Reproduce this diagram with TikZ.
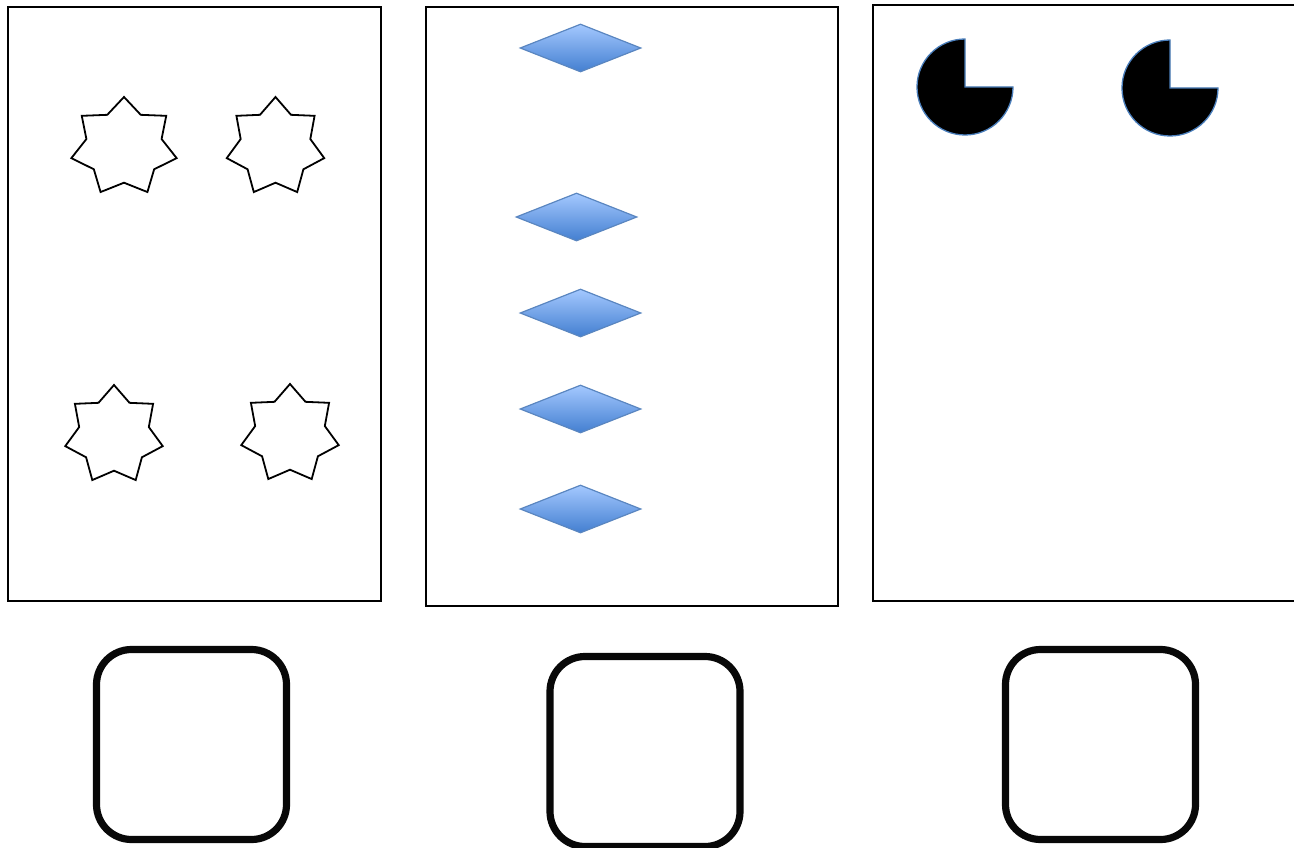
\documentclass[tikz,border=0pt]{standalone}
\usetikzlibrary{shapes.geometric}
\definecolor{dtop}{HTML}{A4C8FF}
\definecolor{dbot}{HTML}{437FD0}
\definecolor{dedge}{HTML}{5A86C0}
\definecolor{pedge}{HTML}{4A7EBB}
\tikzset{
  panel/.style={draw=black, line width=1.3pt, rectangle, inner sep=0pt},
  starshape/.style={star, star points=7, star point ratio=1.4, draw=black, line width=1.8pt, inner sep=0pt, minimum size=100pt},
  dia/.style={diamond, aspect=2.52, minimum width=121pt, minimum height=48pt, inner sep=0pt, draw=dedge, line width=1.2pt, top color=dtop, bottom color=dbot},
  pie/.style={fill=black, draw=pedge, line width=1.3pt},
  rbox/.style={draw=black!97, line width=7.2pt, rounded corners=35pt, minimum size=190pt, inner sep=0pt, rectangle}
}
\begin{document}
\begin{tikzpicture}[x=1pt,y=1pt]
\useasboundingbox (0,0) rectangle (1294,-848);
\clip (0,0) rectangle (1294,-848);
% panels
\node[panel, minimum width=373pt, minimum height=594pt] (p1) at (194.5,-304) {};
\node[panel, minimum width=412pt, minimum height=599pt] (p2) at (632,-306.5) {};
\node[panel, minimum width=440pt, minimum height=596pt] (p3) at (1093,-303) {};
% stars
\node[starshape, xscale=1.08, transform shape] (s1) at (124,-147) {};
\node[starshape] (s2) at (275.5,-147) {};
\node[starshape] (s3) at (114,-435) {};
\node[starshape] (s4) at (290,-434) {};
% diamonds
\node[dia] (d1) at (580.5,-48) {};
\node[dia] (d2) at (576.5,-217) {};
\node[dia] (d3) at (580.5,-313) {};
\node[dia] (d4) at (580.5,-409) {};
\node[dia] (d5) at (580.5,-509) {};
% pies
\coordinate (c1) at (965,-87);
\coordinate (c2) at (1170,-88);
\draw[pie] (c1) -- ++(0,48) arc[start angle=90, end angle=360, radius=48] -- cycle;
\draw[pie] (c2) -- ++(0,48) arc[start angle=90, end angle=360, radius=48] -- cycle;
% rounded boxes
\node[rbox] (b1) at (191.5,-744.5) {};
\node[rbox] (b2) at (645,-751.5) {};
\node[rbox] (b3) at (1100.5,-744.5) {};
\end{tikzpicture}
\end{document}
